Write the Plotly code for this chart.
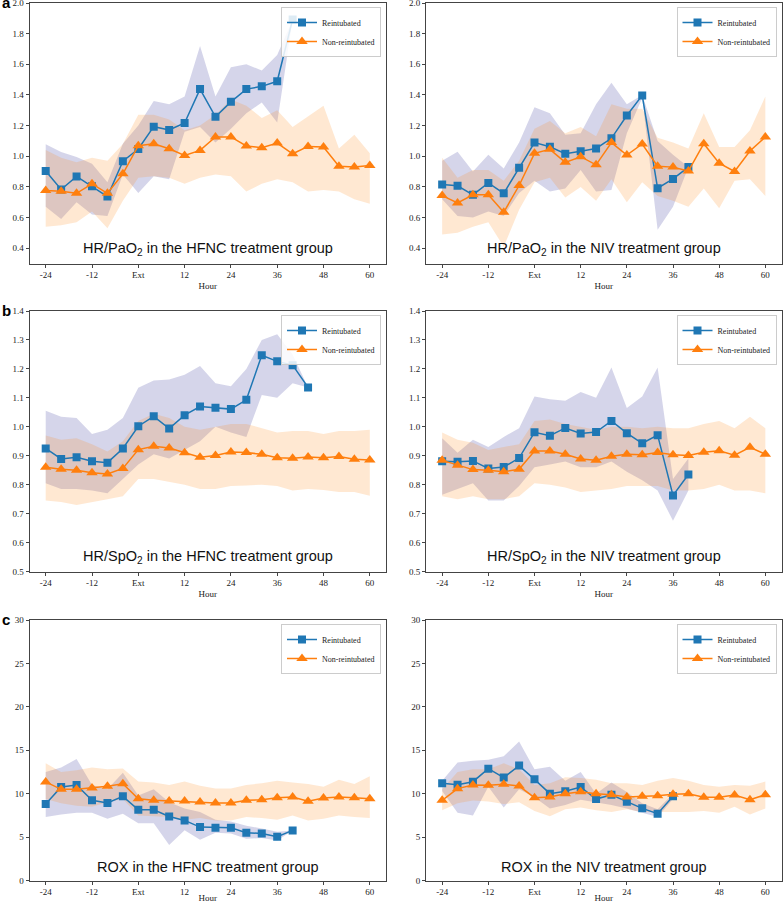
import plotly.graph_objects as go

HOURS = [-24, -20, -16, -12, -8, -4, 0, 4, 8, 12, 16, 20, 24, 28, 32, 36, 40, 44, 48, 52, 56, 60]
TICK_VALS = [-24, -12, 0, 12, 24, 36, 48, 60]
TICK_TEXT = ["-24", "-12", "Ext", "12", "24", "36", "48", "60"]

# ---- a: HR/PaO2, HFNC ----
hfnc_pao2_re_mean = [0.903, 0.783, 0.868, 0.804, 0.737, 0.968, 1.047, 1.193, 1.172, 1.217, 1.438, 1.257, 1.355, 1.438, 1.456, 1.489, 1.893]
hfnc_pao2_re_hi = [1.078, 1.027, 0.995, 0.951, 0.831, 1.082, 1.20, 1.36, 1.34, 1.39, 1.72, 1.39, 1.58, 1.60, 1.56, 1.66, 1.893]
hfnc_pao2_re_lo = [0.67, 0.59, 0.70, 0.62, 0.61, 0.88, 0.76, 0.87, 0.85, 1.16, 1.19, 1.09, 1.18, 1.28, 1.35, 1.22, 1.893]
hfnc_pao2_non_mean = [0.776, 0.772, 0.758, 0.820, 0.758, 0.885, 1.069, 1.082, 1.049, 1.005, 1.038, 1.126, 1.126, 1.067, 1.056, 1.086, 1.016, 1.064, 1.060, 0.935, 0.929, 0.940]
hfnc_pao2_non_hi = [1.04, 0.99, 0.96, 0.99, 0.97, 1.08, 1.27, 1.27, 1.24, 1.17, 1.20, 1.27, 1.37, 1.33, 1.25, 1.30, 1.19, 1.26, 1.33, 1.05, 1.14, 1.02]
hfnc_pao2_non_lo = [0.54, 0.55, 0.57, 0.64, 0.53, 0.71, 0.86, 0.87, 0.86, 0.82, 0.86, 0.88, 0.87, 0.77, 0.82, 0.85, 0.83, 0.77, 0.78, 0.77, 0.72, 0.69]

# ---- a: HR/PaO2, NIV ----
niv_pao2_re_mean = [0.815, 0.807, 0.748, 0.826, 0.758, 0.925, 1.089, 1.062, 1.016, 1.032, 1.051, 1.117, 1.266, 1.397, 0.791, 0.852, 0.929]
niv_pao2_re_hi = [0.97, 1.03, 0.90, 1.01, 0.92, 1.09, 1.32, 1.28, 1.14, 1.15, 1.34, 1.48, 1.34, 1.40, 1.10, 1.01, 0.93]
niv_pao2_re_lo = [0.72, 0.61, 0.60, 0.64, 0.61, 0.76, 0.84, 0.77, 0.79, 0.91, 0.77, 0.78, 1.15, 1.38, 0.52, 0.67, 0.93]
niv_pao2_non_mean = [0.743, 0.695, 0.748, 0.748, 0.634, 0.809, 1.019, 1.045, 0.960, 0.997, 0.944, 1.089, 1.008, 1.080, 0.935, 0.929, 0.903, 1.082, 0.955, 0.901, 1.034, 1.126]
niv_pao2_non_hi = [0.99, 0.86, 0.91, 0.91, 0.84, 0.97, 1.18, 1.23, 1.15, 1.19, 1.13, 1.34, 1.31, 1.31, 1.12, 1.09, 1.05, 1.28, 1.06, 1.06, 1.17, 1.39]
niv_pao2_non_lo = [0.49, 0.50, 0.54, 0.57, 0.41, 0.65, 0.83, 0.86, 0.73, 0.80, 0.71, 0.85, 0.70, 0.83, 0.74, 0.71, 0.67, 0.79, 0.66, 0.84, 0.85, 0.74]

# ---- b: HR/SpO2, HFNC ----
hfnc_spo2_re_mean = [0.925, 0.889, 0.895, 0.881, 0.876, 0.925, 1.002, 1.036, 0.994, 1.040, 1.070, 1.066, 1.061, 1.093, 1.247, 1.226, 1.213, 1.136]
hfnc_spo2_re_hi = [1.055, 1.035, 1.03, 0.975, 0.99, 1.03, 1.135, 1.16, 1.163, 1.18, 1.21, 1.15, 1.14, 1.20, 1.30, 1.32, 1.25, 1.14]
hfnc_spo2_re_lo = [0.805, 0.785, 0.785, 0.78, 0.77, 0.82, 0.87, 0.905, 0.89, 0.92, 0.95, 1.00, 0.98, 0.965, 1.11, 1.10, 1.15, 1.136]
hfnc_spo2_non_mean = [0.860, 0.853, 0.850, 0.841, 0.837, 0.856, 0.921, 0.933, 0.927, 0.910, 0.895, 0.901, 0.913, 0.911, 0.905, 0.893, 0.891, 0.896, 0.893, 0.897, 0.888, 0.885]
hfnc_spo2_non_hi = [0.97, 0.955, 0.96, 0.94, 0.915, 0.95, 1.02, 1.045, 1.03, 1.0, 0.99, 1.0, 1.01, 1.01, 0.995, 0.98, 0.985, 0.985, 0.975, 0.985, 0.985, 0.99]
hfnc_spo2_non_lo = [0.745, 0.74, 0.73, 0.74, 0.75, 0.76, 0.82, 0.82, 0.81, 0.80, 0.785, 0.785, 0.795, 0.797, 0.80, 0.795, 0.78, 0.785, 0.782, 0.775, 0.775, 0.762]

# ---- b: HR/SpO2, NIV ----
niv_spo2_re_mean = [0.881, 0.879, 0.882, 0.856, 0.861, 0.892, 0.981, 0.969, 0.996, 0.977, 0.982, 1.020, 0.978, 0.943, 0.971, 0.763, 0.835]
niv_spo2_re_hi = [0.96, 0.91, 0.955, 0.93, 0.965, 0.995, 1.105, 1.095, 1.09, 1.12, 1.10, 1.205, 1.065, 1.105, 1.205, 0.82, 0.89]
niv_spo2_re_lo = [0.765, 0.785, 0.805, 0.745, 0.745, 0.795, 0.86, 0.87, 0.88, 0.86, 0.86, 0.88, 0.845, 0.815, 0.78, 0.675, 0.78]
niv_spo2_non_mean = [0.884, 0.867, 0.852, 0.850, 0.845, 0.853, 0.916, 0.916, 0.905, 0.889, 0.884, 0.898, 0.905, 0.903, 0.911, 0.903, 0.901, 0.912, 0.917, 0.902, 0.929, 0.905]
niv_spo2_non_hi = [0.98, 0.955, 0.945, 0.92, 0.93, 0.94, 1.02, 1.025, 1.01, 1.0, 0.99, 1.0, 1.0, 0.995, 1.0, 0.995, 0.995, 1.01, 1.02, 0.995, 1.035, 0.995]
niv_spo2_non_lo = [0.76, 0.75, 0.76, 0.75, 0.75, 0.76, 0.805, 0.80, 0.79, 0.775, 0.78, 0.785, 0.795, 0.795, 0.795, 0.78, 0.78, 0.785, 0.80, 0.78, 0.78, 0.77]

# ---- c: ROX, HFNC ----
hfnc_rox_re_mean = [8.81, 10.77, 11.0, 9.23, 8.92, 9.69, 8.15, 8.15, 7.38, 6.92, 6.15, 6.08, 6.08, 5.50, 5.42, 5.04, 5.77]
hfnc_rox_re_hi = [12.5, 13.0, 14.0, 11.0, 10.5, 12.4, 9.8, 10.5, 9.0, 8.3, 7.9, 7.0, 6.8, 6.3, 6.0, 5.6, 5.77]
hfnc_rox_re_lo = [7.3, 7.6, 7.8, 7.8, 7.1, 7.7, 6.6, 6.6, 4.1, 5.8, 4.7, 5.5, 5.4, 4.8, 4.9, 4.6, 5.77]
hfnc_rox_non_mean = [11.35, 10.5, 10.5, 10.65, 10.85, 11.15, 9.42, 9.23, 9.15, 9.15, 9.04, 8.92, 8.92, 9.23, 9.31, 9.54, 9.62, 9.12, 9.5, 9.62, 9.54, 9.42]
hfnc_rox_non_hi = [13.5, 12.5, 12.7, 13.0, 12.8, 12.9, 11.4, 11.3, 11.0, 11.4, 10.9, 10.6, 10.6, 11.0, 11.2, 11.5, 11.3, 11.1, 10.8, 11.6, 11.1, 12.0]
hfnc_rox_non_lo = [9.4, 8.9, 8.6, 8.5, 9.0, 9.4, 7.5, 7.4, 7.3, 7.0, 7.2, 6.9, 6.9, 7.3, 7.2, 7.0, 7.5, 6.9, 7.1, 7.5, 7.3, 7.2]

# ---- c: ROX, NIV ----
niv_rox_re_mean = [11.19, 11.04, 11.38, 12.88, 11.85, 13.23, 11.65, 10.0, 10.27, 10.77, 9.38, 9.88, 9.08, 8.31, 7.69, 9.69]
niv_rox_re_hi = [11.5, 13.6, 13.8, 13.9, 14.3, 16.0, 12.8, 13.1, 11.5, 12.5, 10.0, 11.3, 10.2, 8.9, 8.2, 10.0]
niv_rox_re_lo = [10.3, 7.8, 7.5, 10.8, 8.4, 10.5, 9.6, 8.3, 8.7, 9.3, 9.0, 8.7, 8.3, 7.8, 7.3, 9.4]
niv_rox_non_mean = [9.23, 10.58, 11.0, 10.96, 11.08, 10.88, 9.54, 9.62, 10.0, 10.23, 10.0, 9.88, 9.62, 9.69, 9.77, 9.92, 10.0, 9.58, 9.58, 9.85, 9.31, 9.88]
niv_rox_non_hi = [10.5, 12.5, 12.8, 12.8, 13.5, 12.8, 11.0, 11.2, 11.9, 11.8, 11.6, 11.2, 11.2, 11.0, 11.5, 11.8, 11.5, 11.0, 10.8, 11.0, 10.9, 11.4]
niv_rox_non_lo = [8.1, 8.9, 9.2, 9.1, 8.8, 9.0, 8.0, 7.4, 8.2, 8.4, 8.1, 7.9, 8.2, 7.9, 7.9, 7.9, 7.9, 8.0, 7.8, 8.5, 7.6, 8.3]

TITLES = [
    "HR/PaO<sub>2</sub> in the HFNC treatment group",
    "HR/PaO<sub>2</sub> in the NIV treatment group",
    "HR/SpO<sub>2</sub> in the HFNC treatment group",
    "HR/SpO<sub>2</sub> in the NIV treatment group",
    "ROX in the HFNC treatment group",
    "ROX in the NIV treatment group",
]
PANEL_LETTERS = ["a", "b", "c"]

panels = [
    (hfnc_pao2_re_mean, hfnc_pao2_re_lo, hfnc_pao2_re_hi, hfnc_pao2_non_mean, hfnc_pao2_non_lo, hfnc_pao2_non_hi),
    (niv_pao2_re_mean, niv_pao2_re_lo, niv_pao2_re_hi, niv_pao2_non_mean, niv_pao2_non_lo, niv_pao2_non_hi),
    (hfnc_spo2_re_mean, hfnc_spo2_re_lo, hfnc_spo2_re_hi, hfnc_spo2_non_mean, hfnc_spo2_non_lo, hfnc_spo2_non_hi),
    (niv_spo2_re_mean, niv_spo2_re_lo, niv_spo2_re_hi, niv_spo2_non_mean, niv_spo2_non_lo, niv_spo2_non_hi),
    (hfnc_rox_re_mean, hfnc_rox_re_lo, hfnc_rox_re_hi, hfnc_rox_non_mean, hfnc_rox_non_lo, hfnc_rox_non_hi),
    (niv_rox_re_mean, niv_rox_re_lo, niv_rox_re_hi, niv_rox_non_mean, niv_rox_non_lo, niv_rox_non_hi),
]

Y_RANGES = [[0.3, 2.0], [0.5, 1.4], [0, 30]]
Y_TICKS = [
    [0.4, 0.6, 0.8, 1.0, 1.2, 1.4, 1.6, 1.8, 2.0],
    [0.5, 0.6, 0.7, 0.8, 0.9, 1.0, 1.1, 1.2, 1.3, 1.4],
    [0, 5, 10, 15, 20, 25, 30],
]
Y_FORMATS = [".1f", ".1f", "d"]

W, H = 783, 903
COLS_PX = [(29.5, 386), (426, 781.5)]
ROWS_PX = [(3, 263.5), (311, 571.5), (620, 880.5)]

BLUE = "#1f77b4"
ORANGE = "#ff7f0e"
BLUE_FILL = "rgba(20,20,140,0.18)"
ORANGE_FILL = "rgba(255,140,30,0.2)"

SERIF = "Liberation Serif, Times New Roman, serif"
SANS = "Liberation Sans, Arial, sans-serif"

fig = go.Figure()
layout = dict(
    width=W, height=H, margin=dict(l=0, r=0, t=0, b=0, autoexpand=False),
    paper_bgcolor="white", plot_bgcolor="white", showlegend=True,
)
annotations = []

for i, (rm, rlo, rhi, nm, nlo, nhi) in enumerate(panels):
    row, col = divmod(i, 2)
    idx = "" if i == 0 else str(i + 1)
    xa, ya = "x" + idx, "y" + idx
    leg = "legend" + idx
    x0, x1 = COLS_PX[col]
    ytop, ybot = ROWS_PX[row]

    xr = HOURS[:len(rm)]
    xn = HOURS[:len(nm)]
    fig.add_trace(go.Scatter(x=xr + xr[::-1], y=rhi + rlo[::-1], fill="toself", fillcolor=BLUE_FILL,
                             line=dict(width=0), mode="lines", hoverinfo="skip", showlegend=False,
                             xaxis=xa, yaxis=ya))
    fig.add_trace(go.Scatter(x=xn + xn[::-1], y=nhi + nlo[::-1], fill="toself", fillcolor=ORANGE_FILL,
                             line=dict(width=0), mode="lines", hoverinfo="skip", showlegend=False,
                             xaxis=xa, yaxis=ya))
    fig.add_trace(go.Scatter(x=xr, y=rm, mode="lines+markers", name="Reintubated",
                             line=dict(color=BLUE, width=1.5),
                             marker=dict(symbol="square", size=8, color=BLUE),
                             xaxis=xa, yaxis=ya, legend=leg))
    fig.add_trace(go.Scatter(x=xn, y=nm, mode="lines+markers", name="Non-reintubated",
                             line=dict(color=ORANGE, width=1.5),
                             marker=dict(symbol="triangle-up", size=10, color=ORANGE),
                             xaxis=xa, yaxis=ya, legend=leg))

    axis_common = dict(showline=True, mirror=True, linecolor="#444", linewidth=1, automargin=False,
                       ticks="outside", ticklen=3, tickcolor="#444", showgrid=False, zeroline=False,
                       ticklabeloverflow="allow",
                       tickfont=dict(family=SERIF, size=9, color="#222"))
    layout["xaxis" + idx] = dict(axis_common, domain=[x0 / W, x1 / W], anchor=ya,
                                 range=[-28.2, 64.2], tickvals=TICK_VALS, ticktext=TICK_TEXT,
                                 title=dict(text="Hour", font=dict(family=SERIF, size=9, color="#222"), standoff=3))
    layout["yaxis" + idx] = dict(axis_common, domain=[1 - ybot / H, 1 - ytop / H], anchor=xa,
                                 range=Y_RANGES[row], tickvals=Y_TICKS[row], tickformat=Y_FORMATS[row])
    layout[leg] = dict(x=(x1 - 5) / W, y=1 - (ytop + 4) / H, xanchor="right", yanchor="top",
                       bgcolor="rgba(255,255,255,0.85)", bordercolor="#ccc", borderwidth=1,
                       font=dict(family=SERIF, size=8, color="#222"), tracegroupgap=0, itemwidth=30)

    annotations.append(dict(text=TITLES[i], xref=xa + " domain", yref=ya + " domain",
                            x=0.5, y=0.015, xanchor="center", yanchor="bottom", showarrow=False,
                            font=dict(family=SANS, size=14.5, color="#111")))
    if col == 0:
        annotations.append(dict(text="<b>" + PANEL_LETTERS[row] + "</b>", xref="paper", yref="paper",
                                x=0, y=1 - (ytop - 1) / H, xanchor="left", yanchor="middle", showarrow=False,
                                font=dict(family=SANS, size=15, color="#000")))

layout["annotations"] = annotations
fig.update_layout(**layout)
fig.write_html("out.html", config={"displayModeBar": False},
               post_script="document.body.style.margin='0';document.body.style.overflow='hidden';")
